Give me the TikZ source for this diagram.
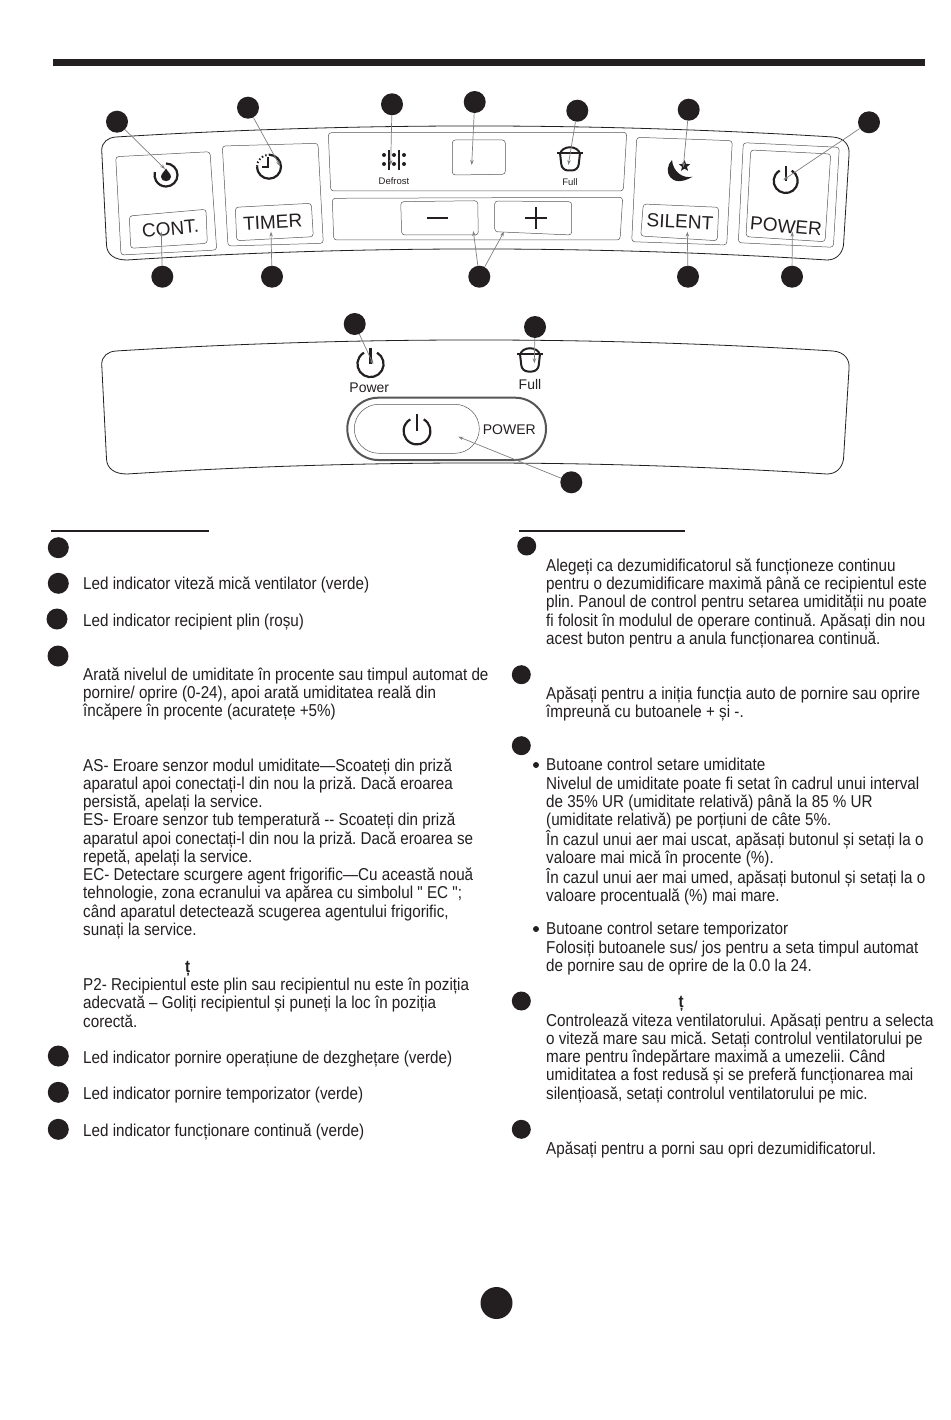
\documentclass[tikz,border=0pt]{standalone}
\usepackage{fontspec}
\setmainfont[FakeStretch=0.885, Ligatures=TeXOff]{Liberation Sans}
\newfontfamily\panelfont{Liberation Sans}
\usetikzlibrary{arrows.meta, shapes.geometric}
\definecolor{inkdark}{HTML}{231F20}
\definecolor{ptrgray}{HTML}{7F7F7F}
\definecolor{boxgray}{HTML}{555555}
\newcommand{\bodysize}{\fontsize{17.2}{18.25}\selectfont\frenchspacing}
\tikzset{
  bd/.style={circle, fill=inkdark, minimum size=22pt, inner sep=0pt},
  ld/.style={circle, fill=inkdark, minimum size=21pt, inner sep=0pt},
  rd/.style={circle, fill=inkdark, minimum size=19pt, inner sep=0pt},
  txt/.style={anchor=north west, inner sep=0pt, align=left, text=inkdark, font=\bodysize, execute at begin node=\strut},
  btn/.style={inner sep=0pt, text=inkdark, font=\panelfont\fontsize{19}{19}\selectfont},
  lbl/.style={inner sep=0pt, text=inkdark, font=\panelfont\fontsize{14}{14}\selectfont},
  tiny/.style={inner sep=0pt, text=inkdark, font=\panelfont\fontsize{9.5}{9.5}\selectfont},
  ptr/.style={draw=ptrgray, line width=0.7pt, -{Stealth[length=5pt,width=3.5pt]}},
  edge/.style={draw=inkdark, line width=0.8pt},
  pane/.style={draw=boxgray, line width=0.5pt, rounded corners=3pt},
  pics/powericon/.style={code={
    \draw[inkdark, line width=2.2pt] (300:12) arc[start angle=300, end angle=600, radius=12];
    \draw[inkdark, line width=2.4pt] (0,-15) -- (0,0);
  }},
  pics/bucketicon/.style={code={
    \draw[inkdark, line width=2pt] (-10,1) .. controls (-8,-8) and (8,-8) .. (10,1);
    \draw[inkdark, line width=1.6pt] (-13,0) -- (13,0);
    \draw[inkdark, line width=2pt, rounded corners=6pt] (-10,0) -- (-8,17.5) -- (8,17.5) -- (10,0);
  }}
}
\begin{document}
\begin{tikzpicture}[x=1pt, y=-1pt]
\useasboundingbox (0,0) rectangle (950,1420);
\fill[inkdark] (53,59) rectangle (925,66.5);

\draw[edge] (116,137) .. controls (355,122.3) and (594,122.3) .. (833,137) .. controls (845,138) and (850,146) .. (849,155) -- (843.5,245) .. controls (842,255) and (835,260) .. (827,260) .. controls (594,245.3) and (360,245.3) .. (127,260) .. controls (115,260) and (107,255) .. (106.5,245) -- (101.7,150) .. controls (102,142) and (108,137.5) .. (116,137);
\draw[pane] (115.7,156.7) -- (210,151.7) -- (216.7,250) -- (121,255) -- cycle;
\draw[pane] (129.3,216) -- (206,209.3) -- (207.3,243.3) -- (130.7,248.3) -- cycle;
\draw[pane] (222.3,146) -- (318,143.3) -- (323.3,243.3) -- (228,246) -- cycle;
\draw[pane] (235.3,207.3) -- (311.3,203.3) -- (313.3,236.7) -- (236.7,240.7) -- cycle;
\draw[pane] (328.3,132.7) -- (626.7,132.3) -- (623.3,191) -- (330.7,191) -- cycle;
\draw[pane] (452.3,140) -- (505.3,140) -- (505.3,174.3) -- (452.3,175) -- cycle;
\draw[pane] (332.3,198.3) -- (622.7,197.3) -- (620,240) -- (333.7,240) -- cycle;
\draw[pane] (400.7,201.7) -- (477.7,200.7) -- (478.3,235) -- (401.7,235) -- cycle;
\draw[pane] (494.7,201) -- (571.7,201.7) -- (571.7,235) -- (494.7,231.7) -- cycle;
\draw[pane] (636.7,137.3) -- (732.3,140.7) -- (726.7,245) -- (631.7,241.7) -- cycle;
\draw[pane] (643.3,204) -- (718.7,207.3) -- (717.3,240.7) -- (640.7,236) -- cycle;
\draw[pane] (743.3,142.7) -- (839.3,147.3) -- (833.3,247.3) -- (738.3,242.7) -- cycle;
\draw[pane] (750.7,150) -- (830.7,154) -- (825,241.7) -- (746,236.7) -- cycle;

\node[btn, rotate=5] (cont) at (170.5,228.5) {CONT.};
\node[btn, rotate=3] (timer) at (272.7,222.3) {TIMER};
\node[btn, rotate=-3] (silent) at (680,221.7) {SILENT};
\node[btn, rotate=-5] (power) at (786,226.5) {POWER};
\node[tiny] (defrost) at (394,180.7) {Defrost};
\node[tiny] (fulla) at (570,182) {Full};

\draw[inkdark, line width=2.2pt] (166,163.5) arc[start angle=270, end angle=555, radius=11.5];
\fill[inkdark] (166,168.5) .. controls (168,172) and (171,174) .. (171,177) .. controls (171,182.5) and (161,182.5) .. (161,177) .. controls (161,174) and (164,172) .. (166,168.5);
\draw[inkdark, line width=2.2pt] (269,154.7) arc[start angle=270, end angle=540, radius=12];
\draw[inkdark, line width=2pt, dash pattern=on 1.5pt off 2.2pt] (257,166.7) arc[start angle=180, end angle=270, radius=12];
\draw[inkdark, line width=2pt] (268.3,156.7) -- (268.3,167.3) -- (261.7,167.3);
\draw[inkdark, line width=2.2pt] (389,150) -- (389,170);
\draw[inkdark, line width=2.2pt] (399,150) -- (399,170);
\foreach \dx in {384,394,404}
  \foreach \dy in {155,164}
    \fill[inkdark] (\dx,\dy) circle[radius=2];
\pic at (570,153) {bucketicon};
\fill[inkdark] (672,160) .. controls (662,170) and (670,190) .. (692.7,176.7) .. controls (683,179) and (673,172) .. (672,160);
\node[star, star points=5, star point ratio=2.3, fill=inkdark, minimum size=12pt, inner sep=0pt] (stara) at (684.5,166) {};
\pic at (785.7,181) {powericon};
\draw[inkdark, line width=2.4pt] (426.7,218.3) -- (448.3,218.3);
\draw[inkdark, line width=2.4pt] (525,218.3) -- (546.7,218.3);
\draw[inkdark, line width=2.4pt] (535.7,207.3) -- (535.7,229.3);

\node[bd] (top1) at (117,121.7) {};
\node[bd] (top2) at (248,107.7) {};
\node[bd] (top3) at (392,104.3) {};
\node[bd] (top4) at (474.7,102) {};
\node[bd] (top5) at (577.3,110.7) {};
\node[bd] (top6) at (688.7,109.7) {};
\node[bd] (top7) at (869,122.3) {};
\node[bd] (low1) at (162.3,276.7) {};
\node[bd] (low2) at (272,276.7) {};
\node[bd] (low3) at (479.3,276.7) {};
\node[bd] (low4) at (688,276.7) {};
\node[bd] (low5) at (792,276.7) {};
\coordinate (ttop1) at (165,169);
\coordinate (ttop2) at (280,166);
\coordinate (ttop3) at (390.7,165);
\coordinate (ttop4) at (471.7,165);
\coordinate (ttop5) at (568.3,165);
\coordinate (ttop6) at (683.3,167.3);
\coordinate (ttop7) at (783.3,180);
\coordinate (tlow1) at (161.3,231.7);
\coordinate (tlow2) at (271,231.7);
\coordinate (tminus) at (473.3,231);
\coordinate (tplus) at (504,231.7);
\coordinate (tlow4) at (687.3,231.7);
\coordinate (tlow5) at (792.3,231.7);
\draw[ptr] (top1) -- (ttop1);
\draw[ptr] (top2) -- (ttop2);
\draw[ptr] (top3) -- (ttop3);
\draw[ptr] (top4) -- (ttop4);
\draw[ptr] (top5) -- (ttop5);
\draw[ptr] (top6) -- (ttop6);
\draw[ptr] (top7) -- (ttop7);
\draw[ptr] (low1) -- (tlow1);
\draw[ptr] (low2) -- (tlow2);
\draw[ptr] (low3) -- (tminus);
\draw[ptr] (low3) -- (tplus);
\draw[ptr] (low4) -- (tlow4);
\draw[ptr] (low5) -- (tlow5);

\draw[edge] (116,351) .. controls (355,336.3) and (594,336.3) .. (833,351) .. controls (845,352) and (850,360) .. (849,369) -- (843.5,459) .. controls (842,469) and (835,474) .. (827,474) .. controls (594,459.3) and (360,459.3) .. (127,474) .. controls (115,474) and (107,469) .. (106.5,459) -- (101.7,364) .. controls (102,356) and (108,351.5) .. (116,351);
\draw[boxgray, line width=2pt, rounded corners=31pt] (347.3,397.7) rectangle (546,460);
\draw[boxgray, line width=0.5pt, rounded corners=24.5pt] (354.3,404.3) rectangle (479.3,453.3);
\pic[scale=1.09] at (370.5,364) {powericon};
\pic at (530,354) {bucketicon};
\pic[scale=1.12] at (417,431) {powericon};
\node[lbl] (powerb) at (369.3,387.3) {Power};
\node[lbl] (fullb) at (530,384.3) {Full};
\node[lbl] (powerc) at (509.3,429.3) {POWER};
\node[bd] (mid1) at (354.7,324) {};
\node[bd] (mid2) at (535,327) {};
\node[bd] (mid3) at (571.3,482.3) {};
\coordinate (tmid1) at (373.3,364.3);
\coordinate (tmid2) at (534.3,363.3);
\coordinate (tmid3) at (458.3,436.7);
\draw[ptr] (mid1) -- (tmid1);
\draw[ptr] (mid2) -- (tmid2);
\draw[ptr] (mid3) -- (tmid3);

\draw[inkdark, line width=2pt] (51,530.7) -- (209,530.7);
\draw[inkdark, line width=2pt] (519,530.7) -- (685,530.7);

\node[ld] (left1) at (58.3,547.7) {};
\node[ld] (left2) at (58.3,583.3) {};
\node[ld] (left3) at (57,619) {};
\node[ld] (left4) at (58,656) {};
\node[ld] (left5) at (58.3,1056) {};
\node[ld] (left6) at (58.3,1092.3) {};
\node[ld] (left7) at (58.3,1129.3) {};
\node[rd] (right1) at (526.7,546) {};
\node[rd] (right2) at (521.3,674.7) {};
\node[rd] (right3) at (521.3,745.7) {};
\node[rd] (right4) at (521.3,1001) {};
\node[rd] (right5) at (521.3,1129.3) {};
\node[circle, fill=inkdark, minimum size=32pt, inner sep=0pt] (page) at (496.5,1303) {};
\fill[inkdark] (536,765) circle[radius=3];
\fill[inkdark] (536,929) circle[radius=3];

\node[txt] (ta) at (83,576.3) {Led indicator viteză mică ventilator (verde)};
\node[txt] (tb) at (83,613.3) {Led indicator recipient plin (roșu)};
\node[txt] (tc) at (83,667.3) {Arată nivelul de umiditate în procente sau timpul automat de\\pornire/ oprire (0-24), apoi arată umiditatea reală din\\încăpere în procente (acuratețe +5\%)};
\node[txt] (td) at (83,758.3) {AS- Eroare senzor modul umiditate—Scoateți din priză\\aparatul apoi conectați-l din nou la priză. Dacă eroarea\\persistă, apelați la service.\\ES- Eroare senzor tub temperatură {-}{-} Scoateți din priză\\aparatul apoi conectați-l din nou la priză. Dacă eroarea se\\repetă, apelați la service.\\EC- Detectare scurgere agent frigorific—Cu această nouă\\tehnologie, zona ecranului va apărea cu simbolul " EC ";\\când aparatul detectează scugerea agentului frigorific,\\sunați la service.};
\node[txt, font=\bodysize\bfseries] (tt1) at (185,959.5) {ț};
\node[txt] (te) at (83,977.8) {P2- Recipientul este plin sau recipientul nu este în poziția\\adecvată – Goliți recipientul și puneți la loc în poziția\\corectă.};
\node[txt] (tf) at (83,1050.3) {Led indicator pornire operațiune de dezghețare (verde)};
\node[txt] (tg) at (83,1086.3) {Led indicator pornire temporizator (verde)};
\node[txt] (th) at (83,1123.3) {Led indicator funcționare continuă (verde)};

\node[txt] (ua) at (546,558.6) {Alegeți ca dezumidificatorul să funcționeze continuu\\pentru o dezumidificare maximă până ce recipientul este\\plin. Panoul de control pentru setarea umidității nu poate\\fi folosit în modulul de operare continuă. Apăsați din nou\\acest buton pentru a anula funcționarea continuă.};
\node[txt] (ub) at (546,686.3) {Apăsați pentru a iniția funcția auto de pornire sau oprire\\împreună cu butoanele + și -.};
\node[txt] (uc) at (546,758.3) {Butoane control setare umiditate\\Nivelul de umiditate poate fi setat în cadrul unui interval\\de 35\% UR (umiditate relativă) până la 85 \% UR\\(umiditate relativă) pe porțiuni de câte 5\%.\\În cazul unui aer mai uscat, apăsați butonul și setați la o\\valoare mai mică în procente (\%).\\În cazul unui aer mai umed, apăsați butonul și setați la o\\valoare procentuală (\%) mai mare.};
\node[txt] (ud) at (546,922.3) {Butoane control setare temporizator\\Folosiți butoanele sus/ jos pentru a seta timpul automat\\de pornire sau de oprire de la 0.0 la 24.};
\node[txt, font=\bodysize\bfseries] (tt2) at (678.5,995) {ț};
\node[txt] (ue) at (546,1013.3) {Controlează viteza ventilatorului. Apăsați pentru a selecta\\o viteză mare sau mică. Setați controlul ventilatorului pe\\mare pentru îndepărtare maximă a umezelii. Când\\umiditatea a fost redusă și se preferă funcționarea mai\\silențioasă, setați controlul ventilatorului pe mic.};
\node[txt] (uf) at (546,1141.3) {Apăsați pentru a porni sau opri dezumidificatorul.};
\end{tikzpicture}
\end{document}
